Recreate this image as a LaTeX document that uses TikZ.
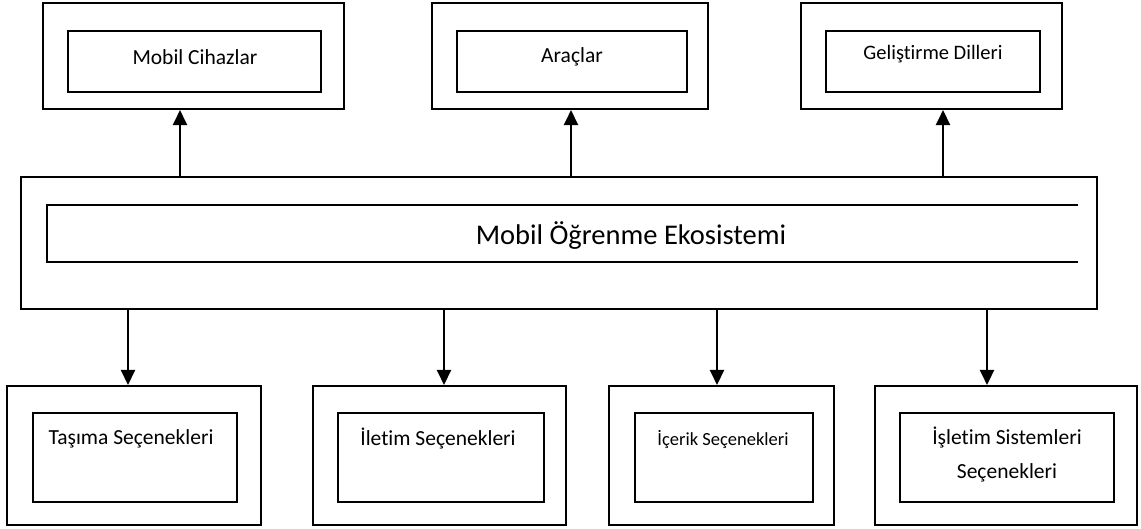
\documentclass[tikz,border=0pt]{standalone}
\usepackage{fontspec}
\setmainfont{Carlito}[Ligatures=NoCommon]
\usetikzlibrary{arrows.meta}
\tikzset{
  outerbox/.style={draw=black, line width=2.1pt, inner sep=0pt, fill=none},
  innerbox/.style={draw=black, line width=1.6pt, inner sep=0pt},
  lbl/.style={inner sep=0pt, align=center, font=\fontsize{21.5}{34}\selectfont},
  lblsmall/.style={inner sep=0pt, align=center, font=\fontsize{18.5}{26}\selectfont},
  lblmid/.style={inner sep=0pt, align=center, font=\fontsize{20.5}{26}\selectfont},
  lblbig/.style={inner sep=0pt, align=center, font=\fontsize{28.5}{34}\selectfont},
  arr/.style={line width=2.5pt, -{Triangle[length=15pt,width=14pt]}},
}
\newcommand{\boxpair}[9]{%
  % #1 name, #2 outer x1, #3 outer x2, #4 y1, #5 y2, #6 inner x1, #7 inner x2, #8 iy1, #9 iy2
  \node[outerbox, minimum width={(#3-#2)*1pt}, minimum height={(#5-#4)*1pt}] (#1) at ({(#2+#3)/2*1pt},{-(#4+#5)/2*1pt}) {};
  \node[innerbox, minimum width={(#7-#6)*1pt}, minimum height={(#9-#8)*1pt}] (#1in) at ({(#6+#7)/2*1pt},{-(#8+#9)/2*1pt}) {};
}
\begin{document}
\begin{tikzpicture}[x=1pt,y=-1pt]
\useasboundingbox (0,0) rectangle (1141,528);

% top boxes
\boxpair{A}{43}{344}{3}{109}{68}{321}{31}{92}
\boxpair{B}{432}{708}{3}{109}{457}{687}{31}{92}
\boxpair{C}{801}{1062}{3}{109}{826}{1040}{31}{92}
\node[lbl] (tA) at (195,57) {Mobil Cihazlar};
\node[lbl] (tB) at (572,57) {Araçlar};
\node[lblmid] (tC) at (933,54) {Geliştirme Dilleri};

% main box
\node[outerbox, minimum width=1076pt, minimum height=132pt] (M) at (559,243) {};
\coordinate (Mi1) at (1078,205);
\coordinate (Mi2) at (47,205);
\coordinate (Mi3) at (47,262);
\coordinate (Mi4) at (1078,262);
\draw[line width=1.6pt] (Mi1) -- (Mi2) -- (Mi3) -- (Mi4);
\node[lblbig] (tM) at (631,236) {Mobil Öğrenme Ekosistemi};

% bottom boxes
\boxpair{D}{7}{261}{386}{525}{33}{237}{413}{502}
\boxpair{E}{313}{566}{386}{525}{338}{544}{413}{502}
\boxpair{F}{609}{834}{386}{525}{635}{813}{413}{502}
\boxpair{G}{875}{1137}{386}{525}{900}{1114}{413}{502}
\node[lbl] (tD) at (131,439) {Taşıma Seçenekleri};
\node[lbl] (tE) at (438,439) {İletim Seçenekleri};
\node[lblsmall] (tF) at (723,439) {İçerik Seçenekleri};
\node[lbl, anchor=north] (tG) at (1007,427) {İşletim Sistemleri\\Seçenekleri};

% arrows up
\coordinate (uA) at (180,177);
\coordinate (uB) at (571,177);
\coordinate (uC) at (943,177);
\draw[arr] (uA) -- (uA |- A.south);
\draw[arr] (uB) -- (uB |- B.south);
\draw[arr] (uC) -- (uC |- C.south);

% arrows down
\coordinate (dD) at (128,309);
\coordinate (dE) at (444,309);
\coordinate (dF) at (717,309);
\coordinate (dG) at (987,309);
\draw[arr] (dD) -- (dD |- D.north);
\draw[arr] (dE) -- (dE |- E.north);
\draw[arr] (dF) -- (dF |- F.north);
\draw[arr] (dG) -- (dG |- G.north);
\end{tikzpicture}
\end{document}
